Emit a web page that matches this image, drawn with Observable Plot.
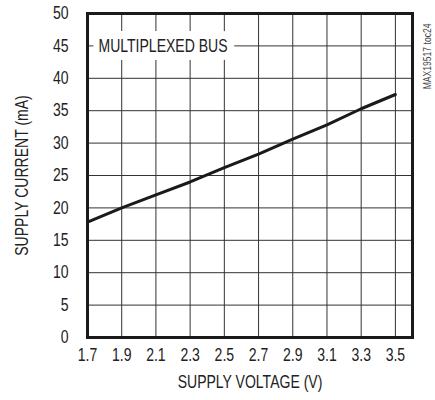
<!DOCTYPE html>
<html>
<head>
<meta charset="utf-8">
<script src="https://cdn.jsdelivr.net/npm/d3@7"></script>
<script src="https://cdn.jsdelivr.net/npm/@observablehq/plot@0.6"></script>
<style>
  html, body { margin: 0; padding: 0; background: #fff; }
</style>
</head>
<body>
<div id="chart"></div>
<script>
const voltage = [1.7, 1.9, 2.1, 2.3, 2.5, 2.7, 2.9, 3.1, 3.3, 3.5];
const current = [17.8, 20.0, 22.0, 24.0, 26.2, 28.3, 30.6, 32.8, 35.3, 37.5];
const xTicks = [1.7, 1.9, 2.1, 2.3, 2.5, 2.7, 2.9, 3.1, 3.3, 3.5];
const xGrid = [1.9, 2.1, 2.3, 2.5, 2.7, 2.9, 3.1, 3.3, 3.5];
const yTicks = [0, 5, 10, 15, 20, 25, 30, 35, 40, 45, 50];
const yGrid = [5, 10, 15, 20, 25, 30, 35, 40, 45];
const seriesLabel = ["MULTIPLEXED BUS"];
const labelPos = {x: 1.764, y: 45};
const xTitle = "SUPPLY VOLTAGE (V)";
const yTitle = "SUPPLY CURRENT (mA)";
const figId = "MAX19517 toc24";

const data = voltage.map((v, i) => ({v, c: current[i]}));
const font = "'Liberation Sans Narrow', 'Arial Narrow', 'Liberation Sans', Arial, sans-serif";
const narrow = 0.78;

const chart = Plot.plot({
  width: 435,
  height: 400,
  marginLeft: 87,
  marginRight: 23,
  marginTop: 13,
  marginBottom: 63,
  style: {fontFamily: font, fontSize: "18px", color: "#222", background: "#fff"},
  x: {domain: [1.7, 3.6]},
  y: {domain: [0, 50]},
  marks: [
    Plot.ruleX(xGrid, {stroke: "#333", strokeWidth: 1}),
    Plot.ruleY(yGrid, {stroke: "#333", strokeWidth: 1}),
    Plot.line(data, {x: "v", y: "c", stroke: "#1a1a1a", strokeWidth: 3}),
    Plot.text(seriesLabel, {x: () => labelPos.x, y: () => labelPos.y, text: d => d, textAnchor: "start", fontSize: 18, fill: "#222", stroke: "white", strokeWidth: 16, strokeLinejoin: "miter"}),
    Plot.frame({stroke: "#1a1a1a", strokeWidth: 3}),
    Plot.axisX({ticks: xTicks, tickSize: 0, tickPadding: 11, tickFormat: d => d.toFixed(1), label: null, fontSize: 18}),
    Plot.axisY({ticks: yTicks, tickSize: 0, tickPadding: 19, label: null, fontSize: 18}),
    Plot.text([xTitle], {frameAnchor: "bottom", dy: 50, fontSize: 18, fill: "#222"}),
    Plot.text([yTitle], {frameAnchor: "left", textAnchor: "middle", rotate: -90, dx: -65, fontSize: 18, fill: "#222"}),
    Plot.text([figId], {frameAnchor: "top-right", rotate: -90, textAnchor: "end", dx: 11, dy: 10, fontSize: 11, fill: "#444"})
  ]
});
d3.select(chart).selectAll("text").each(function() {
  const t = this.getAttribute("transform") || "";
  this.setAttribute("transform", t + ` scale(${narrow},1)`);
});
document.getElementById("chart").appendChild(chart);
</script>
</body>
</html>
